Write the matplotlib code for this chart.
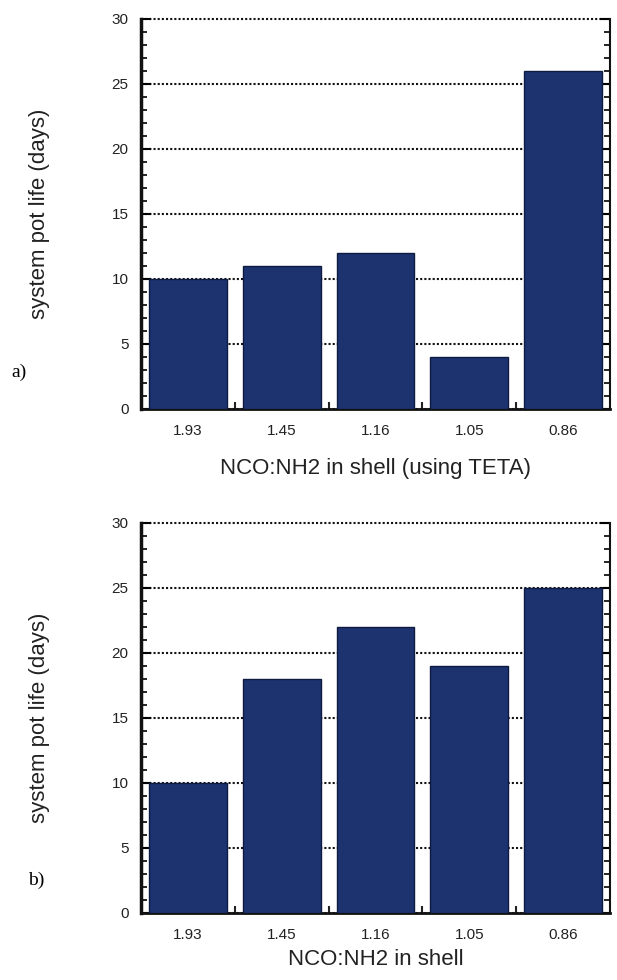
import numpy as np
from matplotlib import pyplot as plt
from matplotlib.ticker import MultipleLocator

ratios = ['1.93', '1.45', '1.16', '1.05', '0.86']
pot_life_teta = [10, 11, 12, 4, 26]
pot_life_shell = [10, 18, 22, 19, 25]
xlabels = ['NCO:NH2 in shell (using TETA)', 'NCO:NH2 in shell']
panel_tags = ['a)', 'b)']

plt.rcParams['font.family'] = ['Liberation Sans', 'DejaVu Sans']

fig = plt.figure(figsize=(6.17, 9.8), dpi=100)

# axes placement in figure fractions
boxes = [[0.2285, 0.5827, 0.7600, 0.3980],
         [0.2285, 0.0684, 0.7600, 0.3980]]
tag_pos = [(0.018, 0.615), (0.046, 0.097)]
xlabel_pads = [14.5, 5]

for box, vals, xl, tag, tp, lp in zip(boxes, [pot_life_teta, pot_life_shell],
                                      xlabels, panel_tags, tag_pos, xlabel_pads):
    ax = fig.add_axes(box)
    x = np.arange(len(ratios))
    ax.bar(x, vals, width=0.83, color='#1c3370', edgecolor='#0e1a40',
           linewidth=1, zorder=3)

    ax.set_xlim(-0.5, len(ratios) - 0.5)
    ax.set_ylim(0, 30)

    # category labels centred, short ticks on slot borders
    ax.set_xticks(x)
    ax.set_xticklabels(ratios, fontsize=11, color='#222222')
    ax.tick_params(axis='x', which='major', length=0, pad=11)
    ax.set_xticks(np.arange(0.5, len(ratios) - 0.5, 1), minor=True)
    ax.tick_params(axis='x', which='minor', direction='in', length=5,
                   width=1.5, color='#222222')

    ax.yaxis.set_major_locator(MultipleLocator(5))
    ax.yaxis.set_minor_locator(MultipleLocator(1))
    ax.tick_params(axis='y', which='major', direction='in', length=7,
                   width=1.5, left=True, right=True, labelsize=11,
                   labelcolor='#222222', pad=9)
    ax.tick_params(axis='y', which='minor', direction='in', length=4,
                   width=1.2, left=True, right=True)

    ax.yaxis.grid(True, linestyle=(0, (1, 1)), color='#111111',
                  linewidth=1.5, zorder=0)
    for gl in ax.get_ygridlines():
        gl.set_clip_on(False)
    ax.set_axisbelow(True)

    ax.spines['top'].set_visible(False)
    ax.spines['left'].set_linewidth(2.5)
    ax.spines['bottom'].set_linewidth(2)
    ax.spines['right'].set_linewidth(1.5)
    for s in ax.spines.values():
        s.set_color('#111111')

    ax.set_ylabel('system pot life (days)', fontsize=16, labelpad=44,
                  color='#222222')
    ax.set_xlabel(xl, fontsize=16, labelpad=lp, color='#222222')

    fig.text(tp[0], tp[1], tag, fontsize=14, family='Liberation Serif')

plt.savefig('out.png')
